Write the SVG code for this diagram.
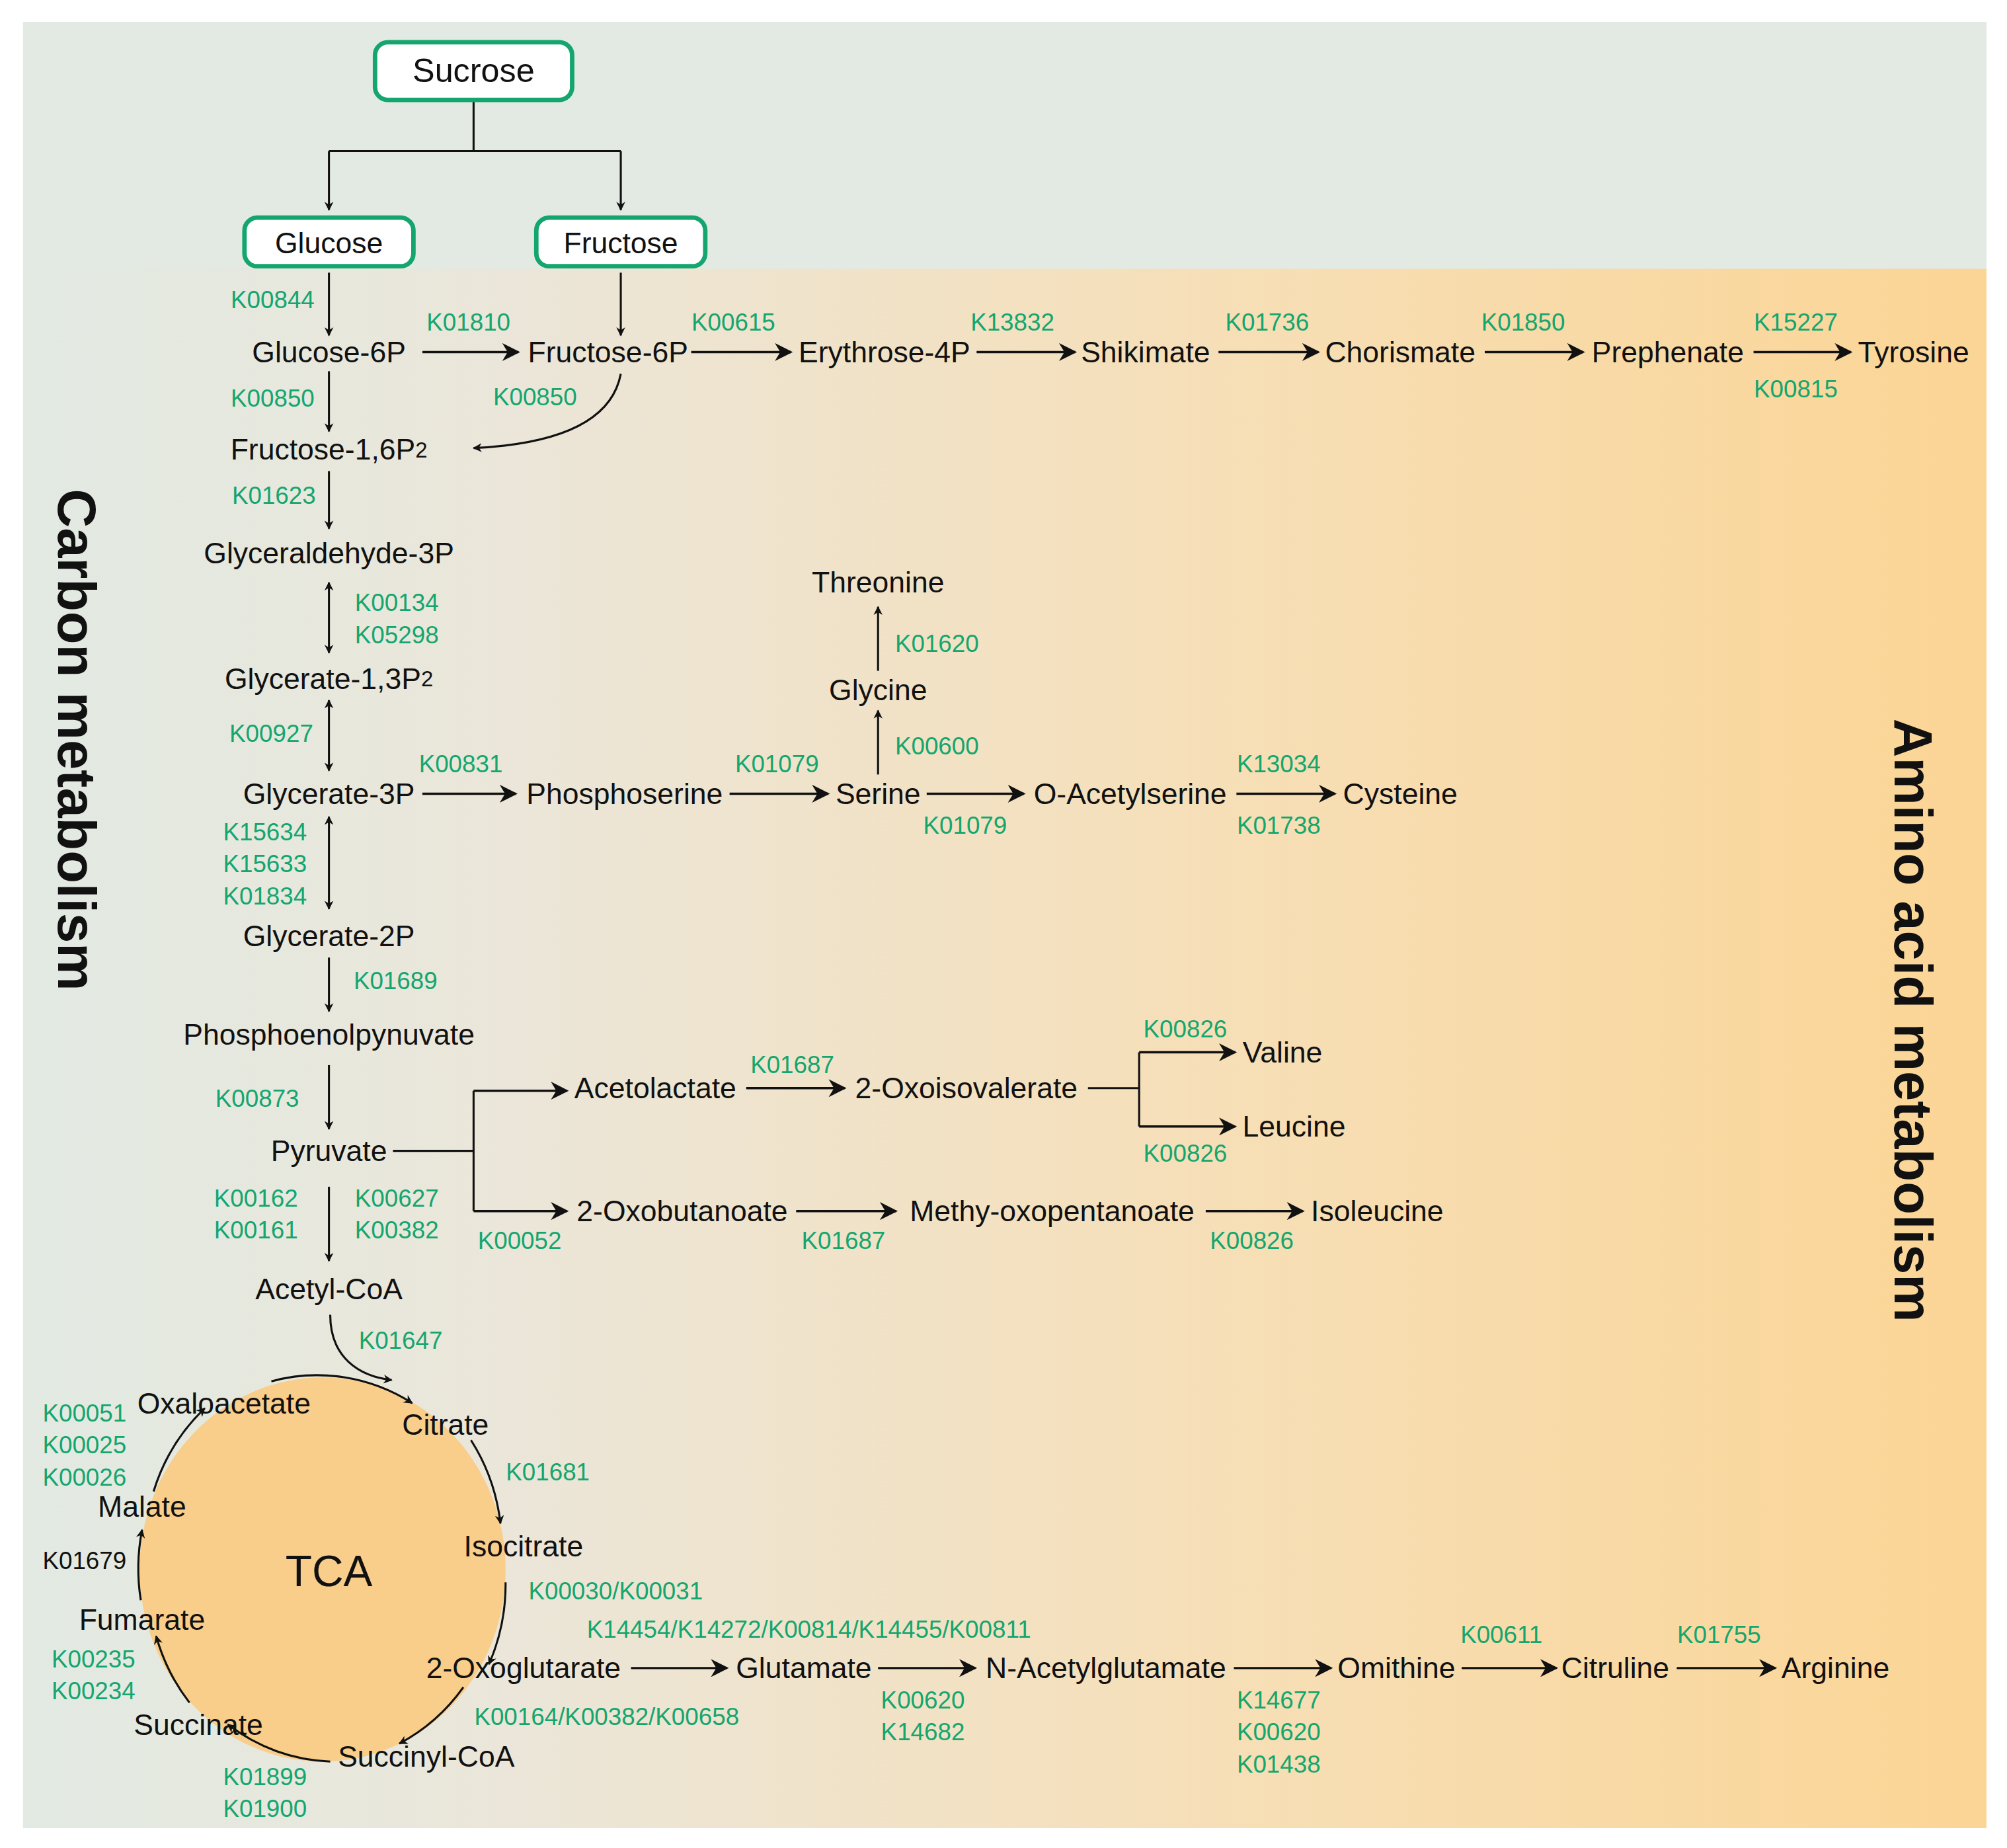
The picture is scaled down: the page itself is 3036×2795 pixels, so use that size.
<svg xmlns="http://www.w3.org/2000/svg" width="3036" height="2795" viewBox="0 0 3036 2795">
<defs>
<linearGradient id="bg" x1="0" y1="0" x2="1" y2="0">
<stop offset="0" stop-color="#e2eae3"/><stop offset="0.25" stop-color="#ebe6d9"/><stop offset="0.6" stop-color="#f6dfb8"/><stop offset="1" stop-color="#fbd595"/>
</linearGradient>
<marker id="a" viewBox="0 0 10 10" refX="9" refY="5" markerWidth="7" markerHeight="9" markerUnits="userSpaceOnUse" orient="auto-start-reverse"><path d="M0,0 L10,5 L0,10 L3,5 Z" fill="#111"/></marker>
<marker id="b" viewBox="0 0 10 10" refX="9" refY="5" markerWidth="18" markerHeight="14" markerUnits="userSpaceOnUse" orient="auto"><path d="M0,0 L10,5 L0,10 L3,5 Z" fill="#111"/></marker>
</defs>
<style>
text{font-family:"Liberation Sans",Arial,sans-serif;text-anchor:middle;dominant-baseline:central}
.t{font-size:23px;fill:#111}
.k{font-size:19px;fill:#14a66e}
.s{stroke:#111;stroke-width:1.6;fill:none;marker-end:url(#a)}
.d{stroke:#111;stroke-width:1.6;fill:none;marker-end:url(#a);marker-start:url(#a)}
.h{stroke:#111;stroke-width:1.8;fill:none;marker-end:url(#b)}
.l{stroke:#111;stroke-width:1.6;fill:none}
.box{fill:#fff;stroke:#14a66e;stroke-width:3.5}
.ttl{font-size:42px;font-weight:bold;fill:#111}
</style>
<g transform="scale(1.9362)">
<rect x="18" y="17" width="1534" height="1411" fill="#e2eae3"/>
<rect x="18" y="210" width="1534" height="1218" fill="url(#bg)"/>
<ellipse cx="252" cy="1226" rx="143" ry="150" fill="#f9cd8a"/>

<g id="connectors">
<path class="l" d="M370,78 V118 M257,118 H485"/>
<path class="s" d="M257,118 V164"/><path class="s" d="M485,118 V164"/>
<path class="s" d="M257,213 V262"/><path class="s" d="M485,213 V262"/>
<path class="h" d="M330,275 H405"/>
<path class="s" d="M257,290 V337"/>
<path class="s" d="M485,292 Q475,345 370,350"/>
<path class="s" d="M257,368 V413"/>
<path class="d" d="M257,455 V510"/>
<path class="d" d="M257,547 V602"/>
<path class="h" d="M330,620 H403"/>
<path class="h" d="M570,620 H647"/>
<path class="s" d="M686,605 V555"/>
<path class="s" d="M686,524 V474"/>
<path class="h" d="M724,620 H800"/>
<path class="h" d="M966,620 H1043"/>
<path class="d" d="M257,638 V710"/>
<path class="s" d="M257,748 V790"/>
<path class="s" d="M257,832 V882"/>
<path class="l" d="M307,899 H370 M370,852 V946"/>
<path class="h" d="M370,852 H443"/><path class="h" d="M370,946 H443"/>
<path class="h" d="M583,850 H660"/>
<path class="l" d="M850,850 H890 M890,822 V880"/>
<path class="h" d="M890,822 H965"/><path class="h" d="M890,880 H965"/>
<path class="h" d="M622,946 H700"/>
<path class="h" d="M942,946 H1018"/>
<path class="s" d="M257,927 V985"/>
<path class="s" d="M258,1027 C258,1060 280,1075 306,1078"/>
<path class="h" d="M540,275 H618"/><path class="h" d="M763,275 H840"/><path class="h" d="M952,275 H1030"/><path class="h" d="M1160,275 H1237"/><path class="h" d="M1370,275 H1446"/>
<path class="s" d="M212,1079 A143 150 0 0 1 322,1096"/>
<path class="s" d="M368,1125 A143 150 0 0 1 391,1190"/>
<path class="s" d="M395,1236 A143 150 0 0 1 382,1300"/>
<path class="s" d="M362,1318 A143 150 0 0 1 312,1362"/>
<path class="s" d="M258,1376 A143 150 0 0 1 178,1347"/>
<path class="s" d="M148,1330 A143 150 0 0 1 122,1278"/>
<path class="s" d="M110,1250 A143 150 0 0 1 111,1195"/>
<path class="s" d="M120,1165 A143 150 0 0 1 160,1100"/>
<path class="h" d="M493,1303 H568"/><path class="h" d="M686,1303 H762"/><path class="h" d="M964,1303 H1040"/><path class="h" d="M1142,1303 H1216"/><path class="h" d="M1310,1303 H1387"/>
</g>

<g id="sucrose"><rect class="box" x="293" y="33" width="154" height="45" rx="10"/><text class="t" x="370" y="55" style="font-size:26px">Sucrose</text></g>
<g id="glucose"><rect class="box" x="191" y="170" width="132" height="38" rx="10"/><text class="t" x="257" y="190">Glucose</text></g>
<g id="fructose"><rect class="box" x="419" y="170" width="132" height="38" rx="10"/><text class="t" x="485" y="190">Fructose</text></g>

<g id="nodes">
<text class="t" x="257" y="275">Glucose-6P</text>
<text class="t" x="475" y="275">Fructose-6P</text>
<text class="t" x="257" y="351">Fructose-1,6P<tspan font-size="17">2</tspan></text>
<text class="t" x="257" y="432">Glyceraldehyde-3P</text>
<text class="t" x="257" y="530">Glycerate-1,3P<tspan font-size="17">2</tspan></text>
<text class="t" x="257" y="620">Glycerate-3P</text>
<text class="t" x="488" y="620">Phosphoserine</text>
<text class="t" x="686" y="620">Serine</text>
<text class="t" x="686" y="539">Glycine</text>
<text class="t" x="686" y="455">Threonine</text>
<text class="t" x="883" y="620">O-Acetylserine</text>
<text class="t" x="1094" y="620">Cysteine</text>
<text class="t" x="257" y="731">Glycerate-2P</text>
<text class="t" x="257" y="808">Phosphoenolpynuvate</text>
<text class="t" x="257" y="899">Pyruvate</text>
<text class="t" x="512" y="850">Acetolactate</text>
<text class="t" x="755" y="850">2-Oxoisovalerate</text>
<text class="t" x="1002" y="822">Valine</text>
<text class="t" x="1011" y="880">Leucine</text>
<text class="t" x="533" y="946">2-Oxobutanoate</text>
<text class="t" x="822" y="946">Methy-oxopentanoate</text>
<text class="t" x="1076" y="946">Isoleucine</text>
<text class="t" x="257" y="1007">Acetyl-CoA</text>
<text class="t" x="691" y="275">Erythrose-4P</text>
<text class="t" x="895" y="275">Shikimate</text>
<text class="t" x="1094" y="275">Chorismate</text>
<text class="t" x="1303" y="275">Prephenate</text>
<text class="t" x="1495" y="275">Tyrosine</text>
<text class="t" x="257" y="1227" style="font-size:34px">TCA</text>
<text class="t" x="175" y="1096">Oxaloacetate</text>
<text class="t" x="348" y="1113">Citrate</text>
<text class="t" x="409" y="1208">Isocitrate</text>
<text class="t" x="409" y="1303">2-Oxoglutarate</text>
<text class="t" x="333" y="1372">Succinyl-CoA</text>
<text class="t" x="155" y="1347">Succinate</text>
<text class="t" x="111" y="1265">Fumarate</text>
<text class="t" x="111" y="1177">Malate</text>
<text class="t" x="628" y="1303">Glutamate</text>
<text class="t" x="864" y="1303">N-Acetylglutamate</text>
<text class="t" x="1091" y="1303">Omithine</text>
<text class="t" x="1262" y="1303">Citruline</text>
<text class="t" x="1434" y="1303">Arginine</text>
</g>

<g id="labels">
<text class="k" x="213" y="234">K00844</text>
<text class="k" x="366" y="252">K01810</text>
<text class="k" x="213" y="311">K00850</text>
<text class="k" x="418" y="310">K00850</text>
<text class="k" x="214" y="387">K01623</text>
<text class="k" x="310" y="471">K00134</text><text class="k" x="310" y="496">K05298</text>
<text class="k" x="212" y="573">K00927</text>
<text class="k" x="360" y="597">K00831</text>
<text class="k" x="607" y="597">K01079</text>
<text class="k" x="732" y="583">K00600</text>
<text class="k" x="732" y="503">K01620</text>
<text class="k" x="754" y="645">K01079</text>
<text class="k" x="999" y="597">K13034</text><text class="k" x="999" y="645">K01738</text>
<text class="k" x="207" y="650">K15634</text><text class="k" x="207" y="675">K15633</text><text class="k" x="207" y="700">K01834</text>
<text class="k" x="309" y="766">K01689</text>
<text class="k" x="201" y="858">K00873</text>
<text class="k" x="619" y="832">K01687</text>
<text class="k" x="926" y="804">K00826</text><text class="k" x="926" y="901">K00826</text>
<text class="k" x="406" y="969">K00052</text>
<text class="k" x="659" y="969">K01687</text>
<text class="k" x="978" y="969">K00826</text>
<text class="k" x="200" y="936">K00162</text><text class="k" x="200" y="961">K00161</text>
<text class="k" x="310" y="936">K00627</text><text class="k" x="310" y="961">K00382</text>
<text class="k" x="313" y="1047">K01647</text>
<text class="k" x="573" y="252">K00615</text>
<text class="k" x="791" y="252">K13832</text>
<text class="k" x="990" y="252">K01736</text>
<text class="k" x="1190" y="252">K01850</text>
<text class="k" x="1403" y="252">K15227</text><text class="k" x="1403" y="304">K00815</text>
<text class="k" x="66" y="1104">K00051</text><text class="k" x="66" y="1129">K00025</text><text class="k" x="66" y="1154">K00026</text>
<text class="k" x="66" y="1219" style="fill:#111">K01679</text>
<text class="k" x="73" y="1296">K00235</text><text class="k" x="73" y="1321">K00234</text>
<text class="k" x="207" y="1388">K01899</text><text class="k" x="207" y="1413">K01900</text>
<text class="k" x="428" y="1150">K01681</text>
<text class="k" x="481" y="1243">K00030/K00031</text>
<text class="k" x="474" y="1341">K00164/K00382/K00658</text>
<text class="k" x="632" y="1273">K14454/K14272/K00814/K14455/K00811</text>
<text class="k" x="721" y="1328">K00620</text><text class="k" x="721" y="1353">K14682</text>
<text class="k" x="999" y="1328">K14677</text><text class="k" x="999" y="1353">K00620</text><text class="k" x="999" y="1378">K01438</text>
<text class="k" x="1173" y="1277">K00611</text>
<text class="k" x="1343" y="1277">K01755</text>
</g>

<g id="titles">
<text class="ttl" transform="translate(60,578) rotate(90)">Carbon metabolism</text>
<text class="ttl" transform="translate(1495,797) rotate(90)">Amino acid metabolism</text>
</g>
</g>
</svg>
